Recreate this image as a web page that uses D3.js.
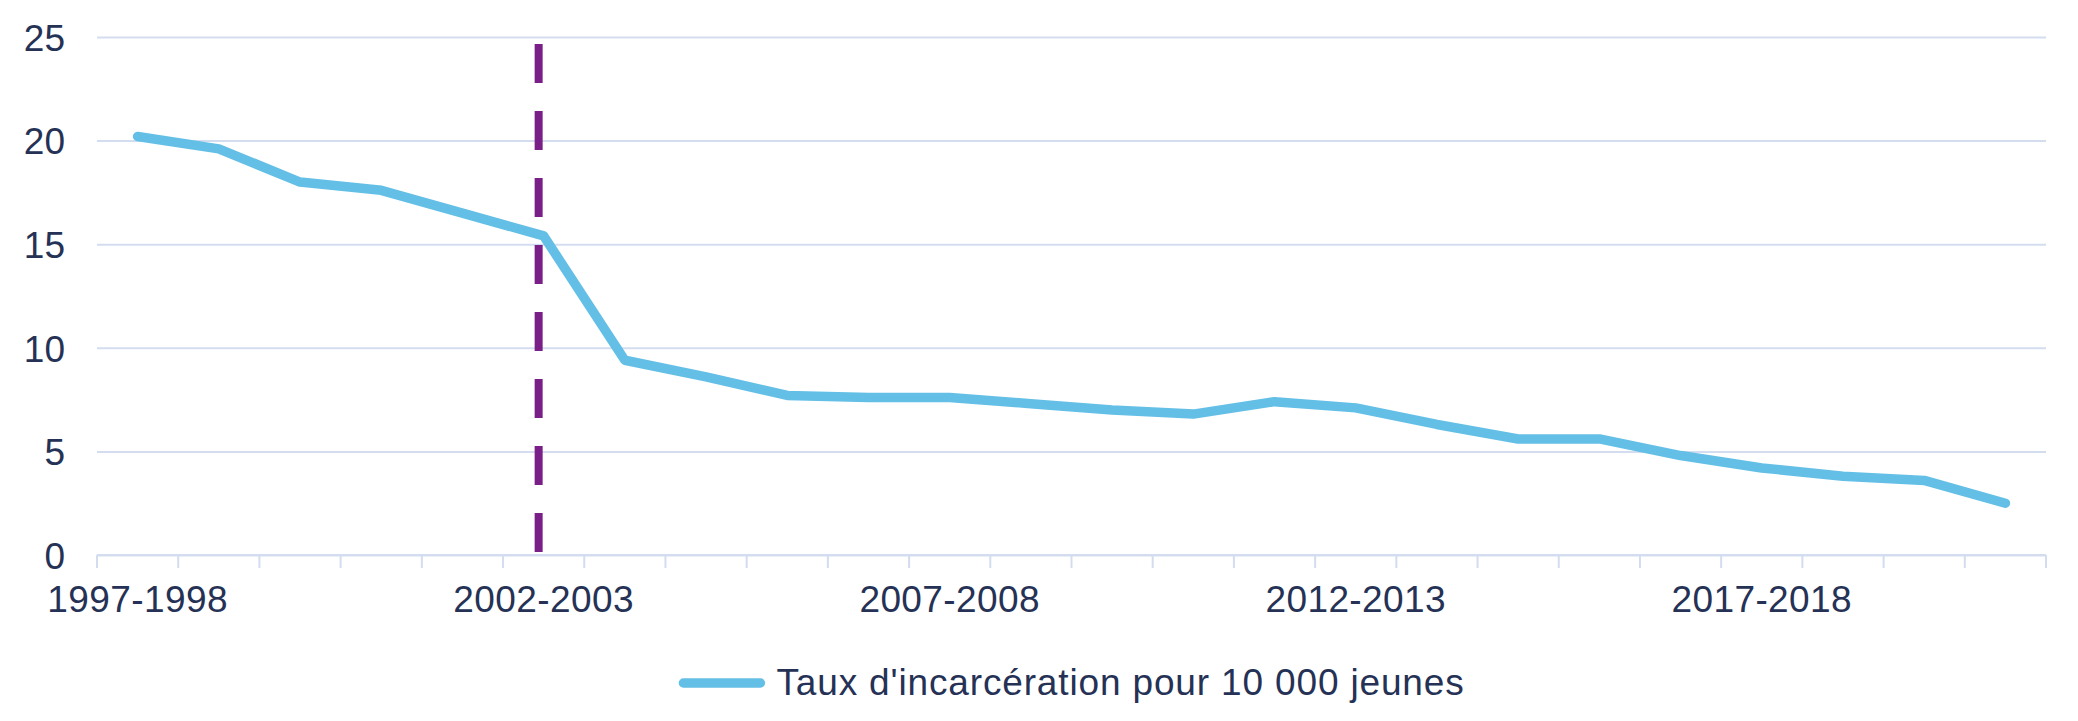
<!DOCTYPE html>
<html>
<head>
<meta charset="utf-8">
<script src="https://cdn.jsdelivr.net/npm/d3@7"></script>
<style>
  html, body { margin: 0; padding: 0; background: #fff; }
  svg { display: block; font-family: "Liberation Sans", Arial, sans-serif; }
</style>
</head>
<body>
<svg id="chart" width="2078" height="721"></svg>
<script>
const seasons = [
  "1997-1998", "1998-1999", "1999-2000", "2000-2001", "2001-2002", "2002-2003",
  "2003-2004", "2004-2005", "2005-2006", "2006-2007", "2007-2008", "2008-2009",
  "2009-2010", "2010-2011", "2011-2012", "2012-2013", "2013-2014", "2014-2015",
  "2015-2016", "2016-2017", "2017-2018", "2018-2019", "2019-2020", "2020-2021",
];
const rates = [
  20.2, 19.6, 18.0, 17.6, 16.5, 15.4, 9.4, 8.6, 7.7, 7.6, 7.6, 7.3,
  7.0, 6.8, 7.4, 7.1, 6.3, 5.6, 5.6, 4.8, 4.2, 3.8, 3.6, 2.5,
];
const shownLabels = ["1997-1998", "2002-2003", "2007-2008", "2012-2013", "2017-2018"];
const yTicks = [0, 5, 10, 15, 20, 25];
const markerSeason = "2002-2003";
const seriesName = "Taux d'incarcération pour 10 000 jeunes";

const textColor = "#253255";
const gridColor = "#d3ddef";
const lineColor = "#64bfe6";
const markerColor = "#7b1f88";

const svg = d3.select("#chart");
const margin = { top: 37, right: 32, bottom: 166, left: 97 };
const width = +svg.attr("width");
const height = +svg.attr("height");
const plotRight = width - margin.right;
const plotBottom = height - margin.bottom;

const x = d3.scaleBand().domain(seasons).range([margin.left, plotRight]);
const y = d3.scaleLinear().domain([0, 25]).range([plotBottom, margin.top]);
const cx = (s) => x(s) + x.bandwidth() / 2;

// y axis + gridlines
const yAxis = svg
  .append("g")
  .attr("transform", `translate(${margin.left},0)`)
  .call(
    d3.axisLeft(y)
      .tickValues(yTicks)
      .tickSize(-(plotRight - margin.left))
      .tickPadding(32)
  );
yAxis.select(".domain").remove();
yAxis.selectAll(".tick line").attr("stroke", gridColor).attr("stroke-width", 2);
yAxis
  .selectAll(".tick text")
  .attr("fill", textColor)
  .attr("font-size", 37)
  .attr("dy", "0.36em");

// x axis line and boundary ticks
const xAxis = svg.append("g");
xAxis
  .append("line")
  .attr("x1", margin.left)
  .attr("x2", plotRight)
  .attr("y1", plotBottom)
  .attr("y2", plotBottom)
  .attr("stroke", gridColor)
  .attr("stroke-width", 2);

const boundaries = seasons.map((s) => x(s)).concat([plotRight]);
xAxis
  .selectAll("line.tick")
  .data(boundaries)
  .join("line")
  .attr("class", "tick")
  .attr("x1", (d) => d)
  .attr("x2", (d) => d)
  .attr("y1", plotBottom)
  .attr("y2", plotBottom + 13)
  .attr("stroke", gridColor)
  .attr("stroke-width", 2);

xAxis
  .selectAll("text")
  .data(shownLabels)
  .join("text")
  .attr("x", (d) => cx(d))
  .attr("y", 612)
  .attr("text-anchor", "middle")
  .attr("fill", textColor)
  .attr("font-size", 37)
  .attr("letter-spacing", 0.4)
  .text((d) => d);

// series line
const line = d3
  .line()
  .x((d, i) => cx(seasons[i]))
  .y((d) => y(d));

svg
  .append("path")
  .datum(rates)
  .attr("d", line)
  .attr("fill", "none")
  .attr("stroke", lineColor)
  .attr("stroke-width", 9.5)
  .attr("stroke-linejoin", "round")
  .attr("stroke-linecap", "round");

// dashed marker at 2002-2003
const markerX = cx(markerSeason) - 5;
svg
  .append("line")
  .attr("x1", markerX)
  .attr("x2", markerX)
  .attr("y1", 44)
  .attr("y2", plotBottom - 1)
  .attr("stroke", markerColor)
  .attr("stroke-width", 8)
  .attr("stroke-dasharray", "39,28");

// legend
const legend = svg.append("g");
legend
  .append("line")
  .attr("x1", 5)
  .attr("x2", 82)
  .attr("y1", 0)
  .attr("y2", 0)
  .attr("stroke", lineColor)
  .attr("stroke-width", 9.5)
  .attr("stroke-linecap", "round");
const legendText = legend
  .append("text")
  .attr("x", 98)
  .attr("y", 12)
  .attr("fill", textColor)
  .attr("font-size", 37)
  .attr("letter-spacing", 0.85)
  .text(seriesName);
const legendWidth = 98 + legendText.node().getComputedTextLength();
const legendLeft = (margin.left + plotRight) / 2 - legendWidth / 2;
legend.attr("transform", `translate(${legendLeft},683)`);
</script>
</body>
</html>
